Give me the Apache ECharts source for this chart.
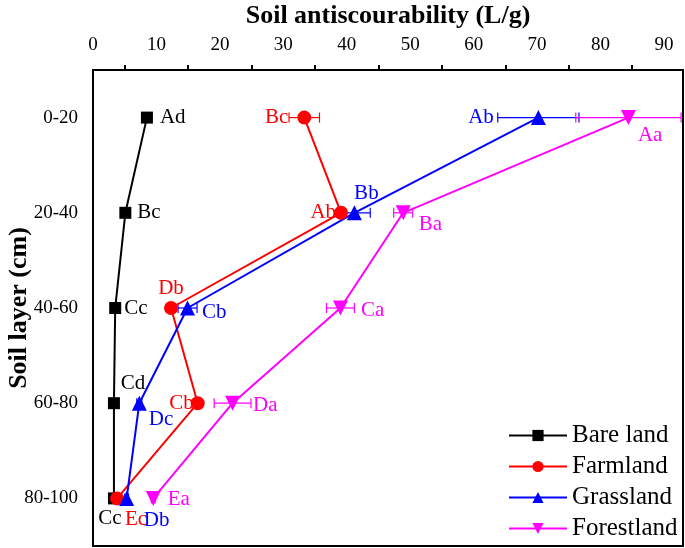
<!DOCTYPE html>
<html>
<head>
<meta charset="utf-8">
<script src="https://cdn.jsdelivr.net/npm/echarts@6/dist/echarts.min.js"></script>
<style>
  html, body { margin: 0; padding: 0; background: #fff; }
  #chart { width: 685px; height: 548px; }
</style>
</head>
<body>
<div id="chart"></div>
<script>
  // soil layers (y axis, top to bottom)
  const layers = ['0-20', '20-40', '40-60', '60-80', '80-100'];

  // antiscourability values (L/g)
  const bareVals = [8.5, 5.1, 3.5, 3.3, 3.3];
  const farmVals = [33.3, 39.1, 12.3, 16.5, 3.8];
  const grassVals = [70.2, 41.2, 14.9, 7.3, 5.3];
  const forestVals = [84.4, 48.9, 39.0, 22.0, 9.5];

  // standard errors
  const bareErr = [0.3, 0.3, 0.3, 0.3, 0.3];
  const farmErr = [2.4, 0.6, 0.5, 0.6, 0.5];
  const grassErr = [6.4, 2.5, 1.5, 0.4, 0.3];
  const forestErr = [8.3, 1.5, 2.2, 2.9, 0.3];

  // significance letters
  const bareLetters = ['Ad', 'Bc', 'Cc', 'Cd', 'Cc'];
  const farmLetters = ['Bc', 'Ab', 'Db', 'Cb', 'Ec'];
  const grassLetters = ['Ab', 'Bb', 'Cb', 'Dc', 'Db'];
  const forestLetters = ['Aa', 'Ba', 'Ca', 'Da', 'Ea'];

  const font = 'Liberation Serif';

  // label placement for each point: [position, distance, offset]
  const barePos = [['right', 7, [0, 0]], ['right', 6, [0, 0]], ['right', 3, [0, 0]], ['top', 3, [19, 0]], ['bottom', 4, [-4, 0]]];
  const farmPos = [['left', 9, [0, 0]], ['left', -2, [0, 0]], ['top', 2, [0, 0]], ['left', -3, [0, 0]], ['bottom', 4, [19, 0]]];
  const grassPos = [['left', 37, [0, 0]], ['top', 1, [12, 0]], ['right', 7, [0, 4]], ['right', 2, [0, 16]], ['bottom', 4, [30, 0]]];
  const forestPos = [['right', 2, [0, 18]], ['right', 8, [0, 12]], ['right', 13, [0, 2]], ['right', 13, [0, 2]], ['right', 7, [0, 1]]];

  function pointData(vals, letters, pos, color) {
    return vals.map(function (v, i) {
      return {
        value: [v, i],
        label: {
          show: true,
          formatter: letters[i],
          position: pos[i][0],
          distance: pos[i][1],
          offset: pos[i][2],
          color: color,
          fontFamily: font,
          fontSize: 21
        }
      };
    });
  }

  function lineSeries(name, vals, letters, pos, color, symbol, size) {
    return {
      name: name,
      type: 'line',
      data: pointData(vals, letters, pos, color),
      symbol: symbol,
      symbolSize: size,
      lineStyle: { color: color, width: 2 },
      itemStyle: { color: color },
      z: 3
    };
  }

  function errSeries(vals, errs, color) {
    return {
      type: 'custom',
      data: vals.map(function (v, i) { return [v, i, errs[i]]; }),
      encode: { x: 0, y: 1 },
      silent: true,
      z: 2,
      renderItem: function (params, api) {
        const x = api.value(0), yi = api.value(1), e = api.value(2);
        const a = api.coord([x - e, yi]);
        const b = api.coord([x + e, yi]);
        const h = 5;
        const style = { stroke: color, lineWidth: 1.2 };
        return {
          type: 'group',
          children: [
            { type: 'line', shape: { x1: a[0], y1: a[1], x2: b[0], y2: b[1] }, style: style },
            { type: 'line', shape: { x1: a[0], y1: a[1] - h, x2: a[0], y2: a[1] + h }, style: style },
            { type: 'line', shape: { x1: b[0], y1: b[1] - h, x2: b[0], y2: b[1] + h }, style: style }
          ]
        };
      }
    };
  }

  const chart = echarts.init(document.getElementById('chart'));

  chart.setOption({
    backgroundColor: '#fff',
    animation: false,
    grid: { left: 93, right: 2, top: 70, bottom: 2, outerBoundsMode: 'none', containLabel: false },
    legend: {
      orient: 'vertical',
      left: 508,
      top: 423,
      padding: 0,
      itemWidth: 58,
      itemHeight: 14,
      itemGap: 6,
      textStyle: { fontFamily: font, fontSize: 25, color: '#000' },
      data: ['Bare land', 'Farmland', 'Grassland', 'Forestland']
    },
    xAxis: [{
      type: 'value',
      position: 'top',
      min: 0,
      max: 93,
      interval: 10,
      name: 'Soil antiscourability (L/g)',
      nameLocation: 'middle',
      nameGap: 41,
      nameMoveOverlap: false,
      nameTextStyle: { fontFamily: font, fontSize: 26, fontWeight: 'bold', color: '#000' },
      axisLine: { show: true, onZero: false, lineStyle: { color: '#000', width: 2 } },
      axisTick: { length: 9, lineStyle: { color: '#000', width: 2 } },
      minorTick: { show: true, splitNumber: 2, length: 5, lineStyle: { color: '#000', width: 2 } },
      axisLabel: { fontFamily: font, fontSize: 19, color: '#000', margin: 15, showMaxLabel: false },
      splitLine: { show: false }
    }, {
      type: 'value',
      position: 'bottom',
      min: 0,
      max: 93,
      axisLine: { show: true, onZero: false, lineStyle: { color: '#000', width: 2 } },
      axisTick: { show: false },
      axisLabel: { show: false },
      splitLine: { show: false }
    }],
    yAxis: [{
      type: 'category',
      data: layers,
      inverse: true,
      position: 'left',
      name: 'Soil layer (cm)',
      nameLocation: 'middle',
      nameGap: 61,
      nameMoveOverlap: false,
      nameTextStyle: { fontFamily: font, fontSize: 26, fontWeight: 'bold', color: '#000' },
      axisLine: { show: true, onZero: false, lineStyle: { color: '#000', width: 2 } },
      axisTick: { alignWithLabel: true, inside: true, length: 8, lineStyle: { color: '#000', width: 2 } },
      axisLabel: { fontFamily: font, fontSize: 19, color: '#000', margin: 15 },
      splitLine: { show: false }
    }, {
      type: 'category',
      data: layers,
      inverse: true,
      position: 'left',
      axisLine: { show: false },
      axisTick: { inside: true, length: 5, lineStyle: { color: '#000', width: 2 } },
      axisLabel: { show: false }
    }, {
      type: 'category',
      data: layers,
      inverse: true,
      position: 'right',
      axisLine: { show: true, onZero: false, lineStyle: { color: '#000', width: 2 } },
      axisTick: { show: false },
      axisLabel: { show: false }
    }],
    series: [
      errSeries(bareVals, bareErr, '#000'),
      errSeries(farmVals, farmErr, '#ff0000'),
      errSeries(grassVals, grassErr, '#0000ff'),
      errSeries(forestVals, forestErr, '#ff00ff'),
      lineSeries('Bare land', bareVals, bareLetters, barePos, '#000', 'rect', 12),
      lineSeries('Farmland', farmVals, farmLetters, farmPos, '#ff0000', 'circle', 14),
      lineSeries('Grassland', grassVals, grassLetters, grassPos, '#0000ff', 'triangle', 15),
      lineSeries('Forestland', forestVals, forestLetters, forestPos, '#ff00ff', 'path://M0,0 L10,0 L5,9 Z', 15)
    ]
  });
</script>
</body>
</html>
